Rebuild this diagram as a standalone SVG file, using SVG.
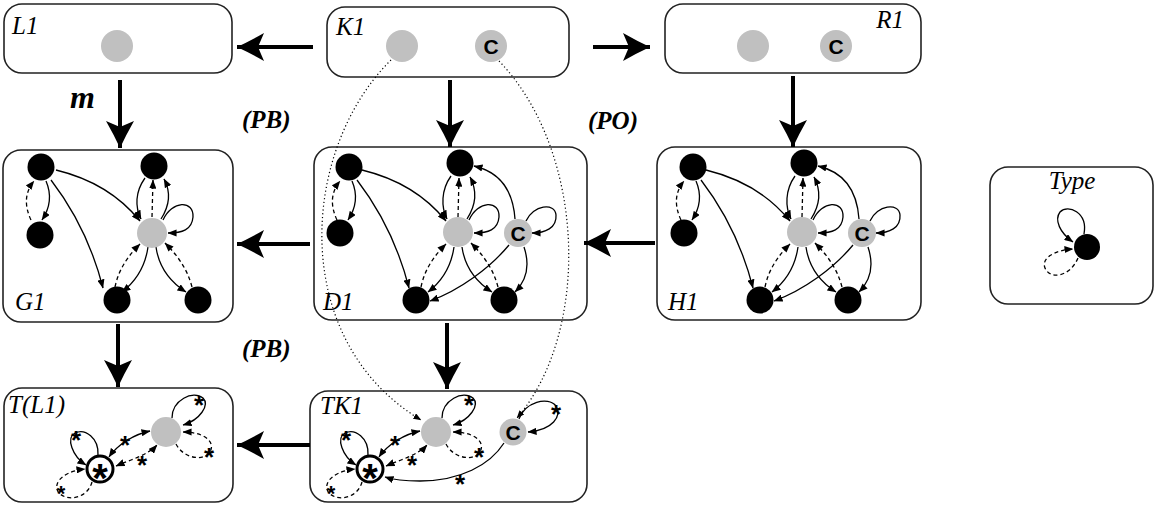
<svg xmlns="http://www.w3.org/2000/svg" width="1159" height="507" viewBox="0 0 1159 507">
<style>
.box{fill:#fff;stroke:#222;stroke-width:1.6}
.lbl{font-family:"Liberation Serif",serif;font-style:italic;font-size:25px;fill:#000}
.blbl{font-family:"Liberation Serif",serif;font-style:italic;font-weight:bold;font-size:25px;fill:#000}
.bk{fill:#000}
.gr{fill:#c0c0c0}
.ct{font-family:"Liberation Sans",sans-serif;font-weight:bold;font-size:21px;text-anchor:middle;fill:#000}
.e{fill:none;stroke:#000;stroke-width:1.3;marker-end:url(#ah)}
.d{fill:none;stroke:#000;stroke-width:1.3;stroke-dasharray:4 3;marker-end:url(#ah)}
.bi{marker-start:url(#ahs)}
.st{font-family:"Liberation Sans",sans-serif;font-weight:bold;font-size:26px;text-anchor:middle;fill:#000}
.stb{font-family:"Liberation Sans",sans-serif;font-weight:bold;font-size:22px;text-anchor:middle;fill:#000}
.bst{font-family:"Liberation Sans",sans-serif;font-weight:bold;font-size:40px;text-anchor:middle;fill:#000}
.big{fill:none;stroke:#000;stroke-width:4;marker-end:url(#big)}
.dot{fill:none;stroke:#000;stroke-width:1.2;stroke-dasharray:1.2 2.6;marker-end:url(#ahd)}
</style>
<defs>
<marker id="big" markerUnits="userSpaceOnUse" viewBox="0 0 30 30" markerWidth="30" markerHeight="30" refX="28" refY="15" orient="auto"><path d="M28,15 Q15,9 1,1 L7,15 L1,29 Q15,21 28,15 Z"/></marker>
<marker id="ah" markerUnits="userSpaceOnUse" viewBox="0 0 10 8" markerWidth="9" markerHeight="7.2" refX="9.5" refY="4" orient="auto"><path d="M0,0 L10,4 L0,8 Z"/></marker>
<marker id="ahs" markerUnits="userSpaceOnUse" viewBox="0 0 10 8" markerWidth="9" markerHeight="7.2" refX="9.5" refY="4" orient="auto-start-reverse"><path d="M0,0 L10,4 L0,8 Z"/></marker>
<marker id="ahd" markerUnits="userSpaceOnUse" viewBox="0 0 10 8" markerWidth="8" markerHeight="6.4" refX="9.5" refY="4" orient="auto"><path d="M0,0 L10,4 L0,8 Z"/></marker>
</defs>

<g id="L1">
<rect class="box" x="4" y="4" width="228" height="69" rx="18"/>
<text class="lbl" x="12" y="34">L1</text>
<circle class="gr" cx="117" cy="46" r="16"/>
</g>

<g id="K1">
<rect class="box" x="327" y="7" width="242" height="70" rx="18"/>
<text class="lbl" x="336" y="35">K1</text>
<circle class="gr" cx="402" cy="46" r="16"/>
<circle class="gr" cx="491" cy="46" r="16"/>
<text class="ct" x="491" y="54">C</text>
</g>

<g id="R1">
<rect class="box" x="665" y="4" width="256" height="69" rx="18"/>
<text class="lbl" x="904" y="28" text-anchor="end">R1</text>
<circle class="gr" cx="753" cy="46" r="16"/>
<circle class="gr" cx="836" cy="46" r="16"/>
<text class="ct" x="836" y="54">C</text>
</g>

<g id="G1">
<rect class="box" x="3" y="150" width="230" height="172" rx="18"/>
<text class="lbl" x="15" y="310">G1</text>
<g transform="translate(-306,0)">
<path class="e" d="M352,181 C358,195 356,208 348,220"/>
<path class="e" d="M362,170 C395,178 425,195 446,221"/>
<path class="e" d="M357,180 C380,210 398,245 409,288"/>
<path class="e" d="M451,178 C441,192 441,207 447,219"/>
<path class="e" d="M467,219 C476,205 477,192 470,179"/>
<path class="e" d="M469,220 C478,200 500,200 499,217 C498,230 488,233 474,233"/>
<path class="e" d="M454,247 C451,268 441,282 428,292"/>
<path class="e" d="M462,247 C465,268 478,283 492,292"/>
<path class="d" d="M337,220 C330,205 331,192 340,181"/>
<path class="d" d="M458,217 L459,180"/>
<path class="d" d="M421,287 C425,268 435,255 446,244"/>
<path class="d" d="M498,287 C493,268 483,255 471,243"/>
<circle class="bk" cx="347" cy="167" r="13.5"/>
<circle class="bk" cx="460" cy="166" r="13.5"/>
<circle class="bk" cx="346" cy="235" r="13.5"/>
<circle class="gr" cx="458" cy="233" r="15"/>
<circle class="bk" cx="423" cy="300" r="13.5"/>
<circle class="bk" cx="504" cy="300" r="13.5"/>
</g>
</g>

<g id="D1">
<rect class="box" x="314" y="147" width="273" height="173" rx="18"/>
<text class="lbl" x="323" y="310">D1</text>
<path class="e" d="M352,181 C358,195 356,208 348,220"/>
<path class="e" d="M362,170 C395,178 425,195 446,221"/>
<path class="e" d="M357,180 C380,210 398,245 409,288"/>
<path class="e" d="M451,176 C441,190 441,207 447,219"/>
<path class="e" d="M467,219 C476,205 477,190 470,177"/>
<path class="e" d="M469,220 C478,200 500,200 499,217 C498,230 488,233 474,233"/>
<path class="e" d="M454,247 C451,268 441,282 428,292"/>
<path class="e" d="M462,247 C465,268 478,283 492,292"/>
<path class="d" d="M337,220 C330,205 331,192 340,181"/>
<path class="d" d="M458,217 L459,178"/>
<path class="d" d="M421,287 C425,268 435,255 446,244"/>
<path class="d" d="M498,287 C493,268 483,255 471,243"/>
<path class="e" d="M515,219 C513,190 500,172 474,166"/>
<path class="e" d="M526,221 C533,205 555,202 556,215 C557,228 545,233 532,233"/>
<path class="e" d="M509,245 C490,268 460,290 430,301"/>
<path class="e" d="M524,247 C530,265 527,280 515,292"/>
<circle class="bk" cx="349" cy="167" r="13.5"/>
<circle class="bk" cx="460" cy="163" r="13.5"/>
<circle class="bk" cx="340" cy="233" r="13.5"/>
<circle class="gr" cx="458" cy="232" r="15"/>
<circle class="gr" cx="518" cy="233" r="14"/>
<text class="ct" x="518" y="241">C</text>
<circle class="bk" cx="416" cy="300" r="13.5"/>
<circle class="bk" cx="504" cy="300" r="13.5"/>
</g>

<g id="H1">
<rect class="box" x="657" y="147" width="264" height="173" rx="18"/>
<text class="lbl" x="668" y="310">H1</text>
<g transform="translate(344,0)">
<path class="e" d="M352,181 C358,195 356,208 348,220"/>
<path class="e" d="M362,170 C395,178 425,195 446,221"/>
<path class="e" d="M357,180 C380,210 398,245 409,288"/>
<path class="e" d="M451,176 C441,190 441,207 447,219"/>
<path class="e" d="M467,219 C476,205 477,190 470,177"/>
<path class="e" d="M469,220 C478,200 500,200 499,217 C498,230 488,233 474,233"/>
<path class="e" d="M454,247 C451,268 441,282 428,292"/>
<path class="e" d="M462,247 C465,268 478,283 492,292"/>
<path class="d" d="M337,220 C330,205 331,192 340,181"/>
<path class="d" d="M458,217 L459,178"/>
<path class="d" d="M421,287 C425,268 435,255 446,244"/>
<path class="d" d="M498,287 C493,268 483,255 471,243"/>
<path class="e" d="M515,219 C513,190 500,172 474,166"/>
<path class="e" d="M526,221 C533,205 555,202 556,215 C557,228 545,233 532,233"/>
<path class="e" d="M509,245 C490,268 460,290 430,301"/>
<path class="e" d="M524,247 C530,265 527,280 515,292"/>
<circle class="bk" cx="349" cy="167" r="13.5"/>
<circle class="bk" cx="460" cy="163" r="13.5"/>
<circle class="bk" cx="340" cy="233" r="13.5"/>
<circle class="gr" cx="458" cy="232" r="15"/>
<circle class="gr" cx="518" cy="233" r="14"/>
<text class="ct" x="518" y="241">C</text>
<circle class="bk" cx="416" cy="300" r="13.5"/>
<circle class="bk" cx="504" cy="300" r="13.5"/>
</g>
</g>

<g id="Type">
<rect class="box" x="990" y="167" width="163" height="137" rx="18"/>
<text class="lbl" x="1072" y="189" text-anchor="middle">Type</text>
<path class="e" d="M1084,234 C1088,212 1068,204 1060,212 C1054,220 1060,233 1073,242"/>
<path class="d" d="M1078,258 C1070,277 1050,280 1045,268 C1041,258 1055,250 1073,249"/>
<circle class="bk" cx="1087" cy="247" r="13"/>
</g>

<g id="TL1">
<rect class="box" x="4" y="388" width="229" height="114" rx="18"/>
<text class="lbl" x="8" y="413">T(L1)</text>
<path class="e" d="M98,455 C99,438 85,428 75,433 C66,438 72,456 86,465"/>
<path class="d" d="M92,482 C88,497 70,502 60,494 C52,487 58,472 85,469"/>
<path class="e bi" d="M109,457 C118,444 135,434 150,431"/>
<path class="d bi" d="M116,466 C130,460 148,455 157,445"/>
<path class="e" d="M172,418 C172,400 193,390 203,398 C210,405 200,420 183,425"/>
<path class="d" d="M176,444 C183,458 203,462 210,452 C216,441 203,432 183,432"/>
<circle cx="100" cy="469" r="13" fill="#fff" stroke="#000" stroke-width="3"/>
<text class="bst" x="100" y="492">*</text>
<circle class="gr" cx="166" cy="432" r="15"/>
<text class="st" x="76" y="449">*</text>
<text class="stb" x="61" y="501">*</text>
<text class="st" x="125" y="454">*</text>
<text class="st" x="142" y="474">*</text>
<text class="st" x="199" y="414">*</text>
<text class="st" x="209" y="466">*</text>
</g>

<g id="TK1">
<rect class="box" x="310" y="391" width="277" height="111" rx="18"/>
<text class="lbl" x="320" y="414">TK1</text>
<g transform="translate(270,0)">
<path class="e" d="M98,455 C99,438 85,428 75,433 C66,438 72,456 86,465"/>
<path class="d" d="M92,482 C88,497 70,502 60,494 C52,487 58,472 85,469"/>
<path class="e bi" d="M109,457 C118,444 135,434 150,431"/>
<path class="d bi" d="M116,466 C130,460 148,455 157,445"/>
<path class="e" d="M172,418 C172,400 193,390 203,398 C210,405 200,420 183,425"/>
<path class="d" d="M176,444 C183,458 203,462 210,452 C216,441 203,432 183,432"/>
<circle cx="100" cy="469" r="13" fill="#fff" stroke="#000" stroke-width="3"/>
<text class="bst" x="100" y="492">*</text>
<circle class="gr" cx="166" cy="432" r="15"/>
<text class="st" x="76" y="449">*</text>
<text class="stb" x="61" y="501">*</text>
<text class="st" x="125" y="454">*</text>
<text class="st" x="142" y="474">*</text>
<text class="st" x="199" y="414">*</text>
<text class="st" x="209" y="466">*</text>
</g>
<path class="e" d="M519,419 C525,402 548,396 556,406 C562,416 553,430 528,432"/>
<path class="e" d="M504,443 C490,465 460,481 420,481 C405,481 394,480 385,477"/>
<circle class="gr" cx="513" cy="432" r="13.5"/>
<text class="ct" x="513" y="440">C</text>
<text class="st" x="556" y="423">*</text>
<text class="st" x="460" y="493">*</text>
</g>

<g id="labels">
<text class="blbl" x="70" y="108" style="font-size:32px">m</text>
<text class="blbl" x="242" y="128">(PB)</text>
<text class="blbl" x="588" y="129">(PO)</text>
<text class="blbl" x="242" y="357">(PB)</text>
</g>

<g id="connectors">
<path class="big" d="M313,47 L237,47"/>
<path class="big" d="M593,47 L650,47"/>
<path class="big" d="M120,80 L120,148"/>
<path class="big" d="M450,80 L450,147"/>
<path class="big" d="M793,76 L793,147"/>
<path class="big" d="M310,244 L237,244"/>
<path class="big" d="M655,243 L584,243"/>
<path class="big" d="M118,324 L118,387"/>
<path class="big" d="M447,323 L447,389"/>
<path class="big" d="M310,445 L237,445"/>
<path class="dot" d="M391,60 C300,150 288,340 421,420"/>
<path class="dot" d="M499,61 C585,150 592,330 517,418"/>
</g>
</svg>
